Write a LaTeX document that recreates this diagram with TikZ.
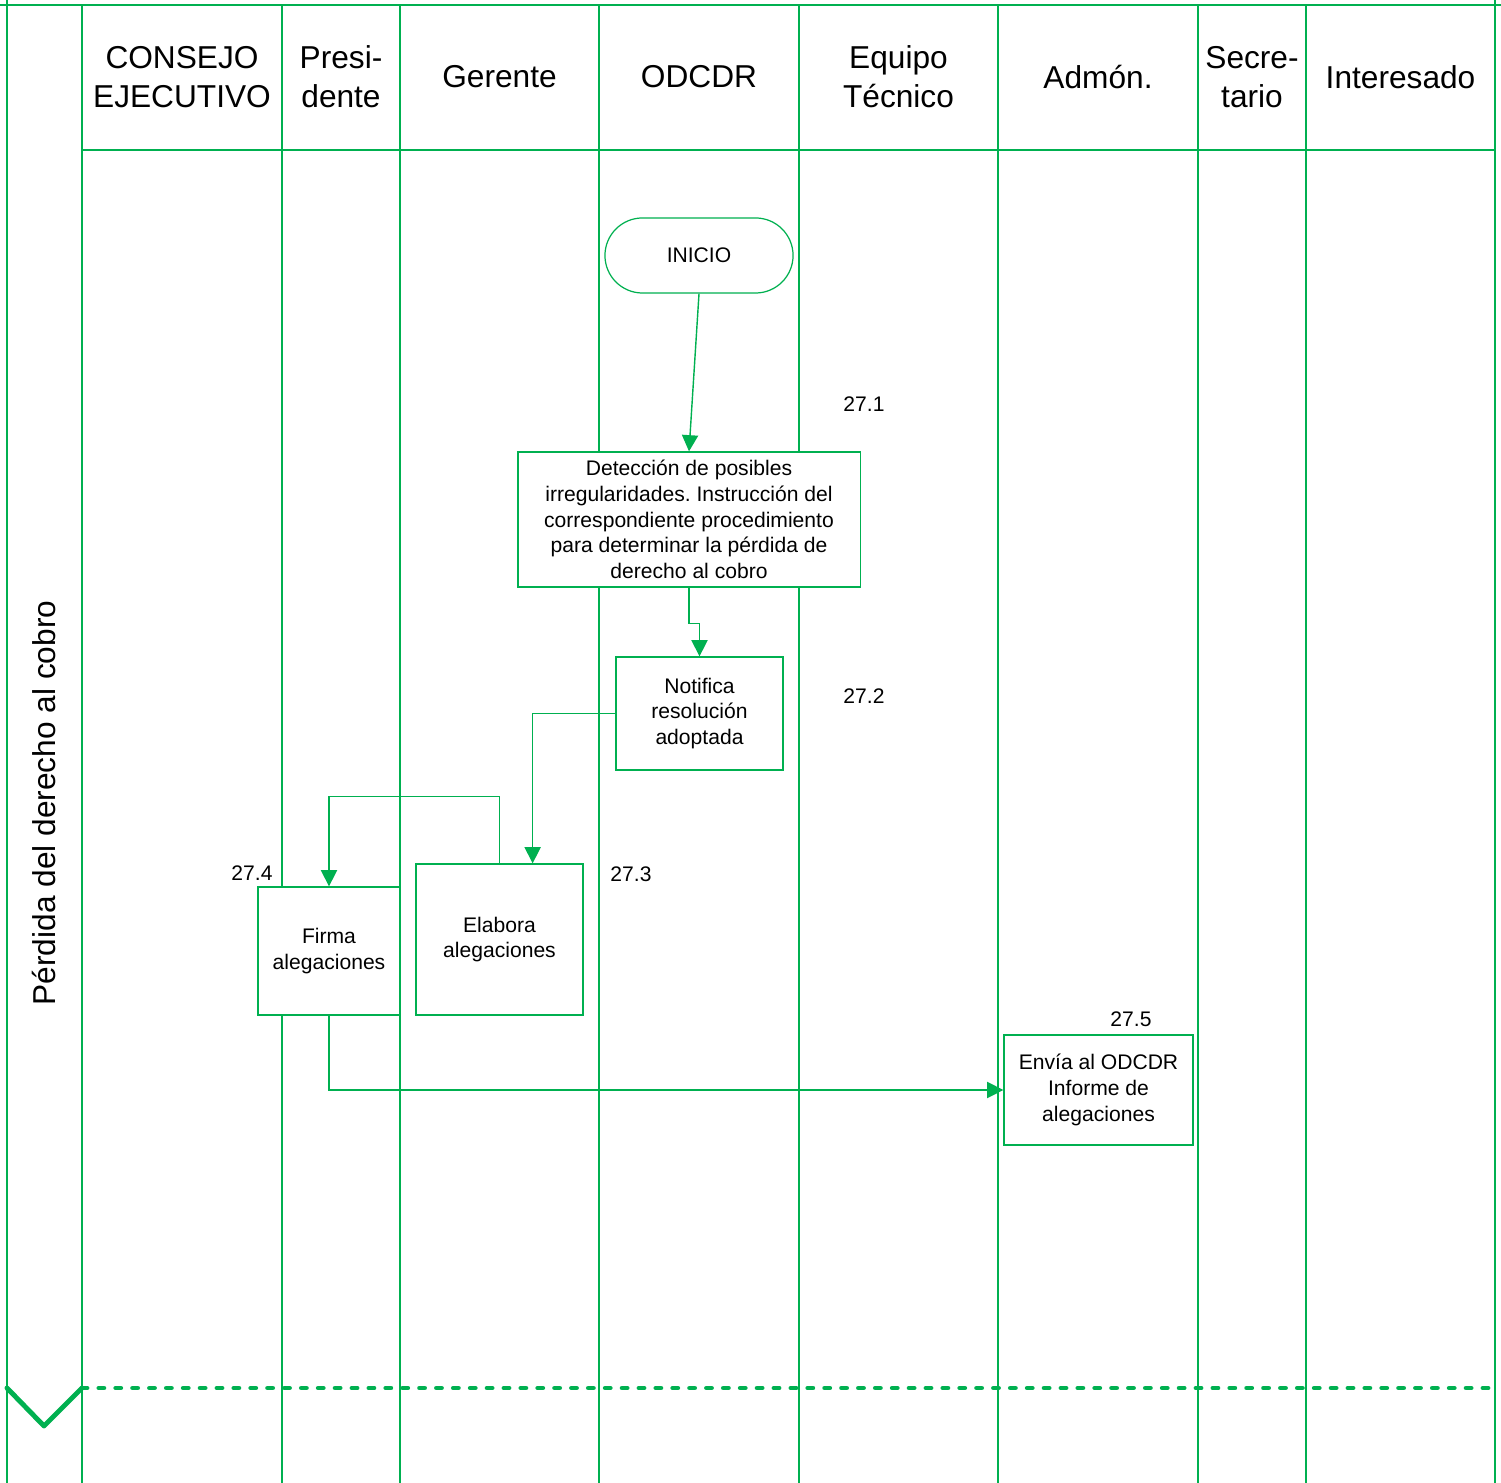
\documentclass[tikz,border=0pt]{standalone}
\usepackage{fontspec}
\setmainfont{Liberation Sans}
\usetikzlibrary{arrows.meta}
\definecolor{gr}{RGB}{0,176,80}
\frenchspacing
\begin{document}
\begin{tikzpicture}[x=0.01cm,y=-0.01cm,
  lane/.style={draw=gr, line width=0.55pt},
  box/.style={draw=gr, fill=white, line width=0.35pt, align=center, font=\fontsize{6}{7.3}\selectfont, inner sep=0pt},
  hdr/.style={align=center, font=\fontsize{9}{11}\selectfont, inner sep=0pt},
  lbl/.style={font=\fontsize{6}{7}\selectfont, inner sep=0pt},
  conn/.style={draw=gr, line width=0.4pt},
  arr/.style={conn, -{Triangle[length=4.6pt,width=4.6pt]}},
  bold/.style={draw=gr, line width=1.4pt}
]
\useasboundingbox (0,0) rectangle (1501,1483);
% frame and lanes
\draw[lane] (0,5) -- (1501,5);
\draw[lane] (7,0) -- (7,1483);
\draw[lane] (1495,0) -- (1495,1483);
\foreach \x in {82,282,400,599,799,998,1198,1306}
  \draw[lane] (\x,6) -- (\x,1483);
\draw[lane] (82,150) -- (1495,150);
% headers
\node[hdr] (h1) at (182,77) {CONSEJO\\EJECUTIVO};
\node[hdr] (h2) at (341,77) {Presi-\\dente};
\node[hdr] (h3) at (499.5,77) {Gerente};
\node[hdr] (h4) at (699,77) {ODCDR};
\node[hdr] (h5) at (898.5,77) {Equipo\\Técnico};
\node[hdr] (h6) at (1098,77) {Admón.};
\node[hdr] (h7) at (1252,77) {Secre-\\tario};
\node[hdr] (h8) at (1400.5,77) {Interesado};
\node[hdr, rotate=90] (title) at (44,803) {Pérdida del derecho al cobro};
% boxes
\node[box, rounded corners=0.375cm, minimum width=1.88cm, minimum height=0.75cm] (ini) at (699,255.5) {INICIO};
\node[box, minimum width=3.42cm, minimum height=1.35cm] (det) at (689,519.5) {Detección de posibles\\irregularidades. Instrucción del\\correspondiente procedimiento\\para determinar la pérdida de\\derecho al cobro};
\node[box, minimum width=1.67cm, minimum height=1.13cm] (not) at (699.5,713.5) {Notifica\\resolución\\adoptada};
\node[box, minimum width=1.42cm, minimum height=1.28cm] (fir) at (329,951) {Firma\\alegaciones};
\node[box, minimum width=1.67cm, minimum height=1.51cm] (ela) at (499.5,939.5) {Elabora\\alegaciones};
\node[box, minimum width=1.89cm, minimum height=1.10cm] (env) at (1098.5,1090) {Envía al ODCDR\\Informe de\\alegaciones};
% labels
\node[lbl] (l1) at (864,404) {27.1};
\node[lbl] (l2) at (864,696) {27.2};
\node[lbl] (l3) at (631,874) {27.3};
\node[lbl] (l4) at (252,873) {27.4};
\node[lbl] (l5) at (1131,1019) {27.5};
% connectors
\draw[arr] (ini.south) -- (det.north);
\draw[arr] (det.south) -- ++(0,36) -| (not.north);
\draw[arr] (not.west) -| ([xshift=-0.51cm]ela.north east);
\draw[arr] (ela.north) -- ++(0,-67) -| (fir.north);
\draw[arr] (fir.south) |- (env.west);
% bottom separator
\coordinate (ca) at (7,1388);
\coordinate (cb) at (44,1426);
\coordinate (cc) at (82,1388);
\coordinate (cd) at (1490,1388);
\draw[bold, line cap=round, line join=round] (ca) -- (cb) -- (cc);
\draw[bold, line cap=round, dash pattern=on 1.4pt off 3.4pt] (cc) -- (cd);
\end{tikzpicture}
\end{document}
